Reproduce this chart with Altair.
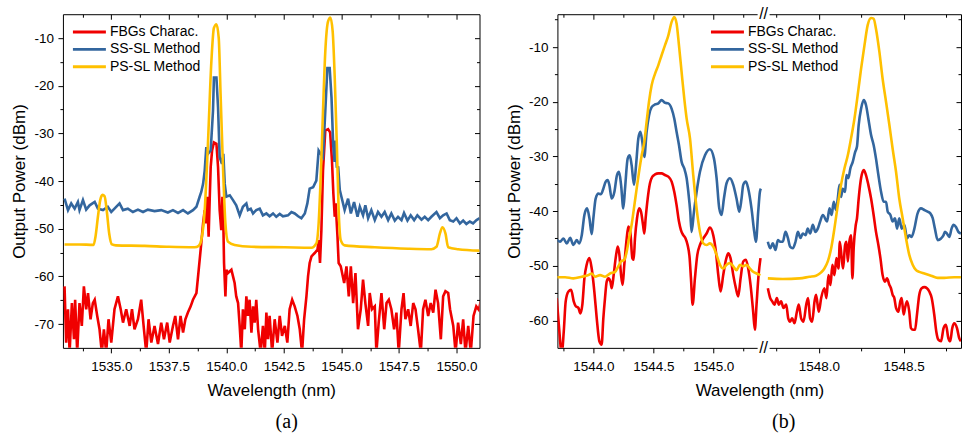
import altair as alt
import pandas as pd

SERIES = ["FBGs Charac.", "SS-SL Method", "PS-SL Method"]
COLORS = ["#F00000", "#33669E", "#FFC000"]

# ---------------- panel (a) ----------------
A_FBG_WL = [
    1532.97, 1533.04, 1533.12, 1533.19, 1533.29, 1533.38, 1533.43, 1533.52, 1533.62, 1533.72,
    1533.81, 1533.91, 1533.99, 1534.10, 1534.20, 1534.28, 1534.39, 1534.49, 1534.59, 1534.68,
    1534.78, 1534.88, 1535.00, 1535.14, 1535.29, 1535.41, 1535.51, 1535.65, 1535.80, 1535.90,
    1536.01, 1536.16, 1536.30, 1536.42, 1536.52, 1536.62, 1536.74, 1536.88, 1537.03, 1537.17,
    1537.29, 1537.43, 1537.54, 1537.68, 1537.78, 1537.90, 1538.01, 1538.12, 1538.22, 1538.33,
    1538.45, 1538.55, 1538.70, 1538.80,
    1538.91, 1538.99, 1539.06, 1539.13, 1539.17, 1539.23, 1539.28, 1539.32, 1539.38, 1539.46,
    1539.57, 1539.64, 1539.71, 1539.78, 1539.83, 1539.87, 1539.90, 1539.96, 1540.00, 1540.07,
    1540.22, 1540.29, 1540.36, 1540.43, 1540.51, 1540.58, 1540.65, 1540.72, 1540.80, 1540.87,
    1540.94, 1541.01, 1541.09, 1541.16, 1541.23, 1541.30, 1541.38, 1541.49, 1541.59, 1541.67,
    1541.74, 1541.81, 1541.88, 1541.99, 1542.10, 1542.22, 1542.32, 1542.42, 1542.54, 1542.65,
    1542.75, 1542.86, 1542.97, 1543.09, 1543.19, 1543.29, 1543.38, 1543.48, 1543.55, 1543.62,
    1543.70, 1543.84, 1543.96, 1544.01, 1544.07, 1544.13, 1544.20, 1544.30, 1544.42, 1544.51,
    1544.59, 1544.65, 1544.71, 1544.75, 1544.83, 1544.88, 1544.97,
    1545.12, 1545.22, 1545.32, 1545.41, 1545.51, 1545.61, 1545.72, 1545.84, 1545.94, 1546.04,
    1546.16, 1546.23, 1546.33, 1546.45, 1546.52, 1546.62, 1546.74, 1546.86, 1546.96, 1547.06,
    1547.17, 1547.29, 1547.39, 1547.49, 1547.61, 1547.70, 1547.78, 1547.90, 1548.01, 1548.12,
    1548.22, 1548.33, 1548.45, 1548.55, 1548.65, 1548.77, 1548.88, 1548.99, 1549.09, 1549.20,
    1549.32, 1549.42, 1549.52, 1549.64, 1549.72, 1549.86, 1549.96, 1550.07, 1550.19, 1550.29,
    1550.39, 1550.51, 1550.62, 1550.74, 1550.86, 1550.97, 1551.06,
]
A_FBG_P = [
    -62.1, -73.9, -66.9, -76.0, -65.6, -73.2, -64.9, -76.0, -65.6, -70.4,
    -62.1, -66.9, -63.5, -69.0, -65.6, -64.9, -68.3, -71.1, -76.0, -71.1,
    -76.0, -69.0, -73.9, -66.9, -64.2, -66.9, -69.7, -66.9, -70.4, -66.9,
    -71.1, -69.0, -64.9, -71.1, -76.0, -69.0, -73.9, -70.4, -74.2, -69.7,
    -73.2, -69.7, -73.9, -70.4, -68.3, -73.2, -68.3, -71.8, -69.0, -67.6,
    -66.3, -64.9, -63.5, -58.6,
    -53.1, -48.9, -46.1, -48.9, -43.3, -51.7, -43.3, -37.1, -33.6, -31.9,
    -32.2, -37.1, -46.1, -50.3, -43.3, -48.9, -57.2, -64.2, -58.6, -59.3,
    -58.6, -60.0, -61.4, -64.2, -65.6, -70.4, -76.0, -66.9, -71.1, -64.2,
    -68.3, -64.9, -71.8, -66.3, -69.7, -64.9, -71.1, -76.0, -70.4, -76.0,
    -67.6, -73.2, -68.3, -76.0, -69.0, -73.9, -68.3, -72.5, -70.4, -73.9,
    -66.9, -64.9, -66.3, -68.3, -71.1, -76.0, -69.0, -64.2, -60.0, -57.2,
    -55.8, -55.1, -54.4, -52.4, -57.2, -50.3, -37.8, -29.4, -29.1, -29.8,
    -35.7, -42.6, -47.5, -44.7, -51.7, -57.2, -57.9,
    -61.4, -57.9, -64.2, -57.9, -65.6, -59.3, -71.1, -66.9, -60.7, -65.6,
    -70.4, -63.5, -66.9, -66.3, -76.0, -69.7, -63.5, -71.1, -65.6, -64.9,
    -66.9, -71.1, -67.6, -76.0, -66.9, -63.5, -69.0, -66.9, -70.4, -65.6,
    -66.9, -71.1, -76.0, -66.9, -64.9, -68.3, -65.6, -67.6, -62.8, -65.6,
    -73.2, -64.2, -63.1, -63.5, -66.9, -70.4, -76.0, -69.7, -74.2, -69.0,
    -76.0, -70.4, -76.0, -68.3, -66.3, -67.0, -65.2,
]

A_SS_WL = [
    1532.97, 1533.12, 1533.26, 1533.41, 1533.55, 1533.62, 1533.77, 1533.91, 1534.06, 1534.28,
    1534.42, 1534.64, 1534.85, 1535.00, 1535.14, 1535.36, 1535.51, 1535.72, 1535.94, 1536.16,
    1536.38, 1536.59, 1536.88, 1537.17, 1537.46, 1537.68, 1537.90, 1538.12, 1538.33, 1538.55,
    1538.70, 1538.84,
    1538.91, 1538.99, 1539.06, 1539.13, 1539.20, 1539.32, 1539.42, 1539.46, 1539.57, 1539.64,
    1539.71, 1539.81, 1539.87, 1539.93, 1540.00, 1540.15, 1540.29, 1540.43, 1540.58, 1540.72,
    1540.87, 1540.94, 1541.06, 1541.16, 1541.30, 1541.45, 1541.59, 1541.74, 1541.88, 1542.03,
    1542.17, 1542.32, 1542.46, 1542.68, 1542.83, 1542.97, 1543.12, 1543.26, 1543.41, 1543.52,
    1543.62, 1543.77, 1543.91, 1544.01, 1544.10, 1544.20, 1544.30, 1544.39, 1544.49, 1544.57,
    1544.64, 1544.70, 1544.75, 1544.80, 1544.86, 1544.93, 1545.00,
    1545.14, 1545.29, 1545.41, 1545.55, 1545.70, 1545.80, 1545.94, 1546.04, 1546.16, 1546.30,
    1546.45, 1546.59, 1546.74, 1546.88, 1547.03, 1547.17, 1547.32, 1547.46, 1547.61, 1547.72,
    1547.87, 1548.01, 1548.16, 1548.30, 1548.48, 1548.62, 1548.77, 1548.91, 1549.13, 1549.28,
    1549.42, 1549.57, 1549.71, 1549.86, 1550.00, 1550.15, 1550.29, 1550.43, 1550.58, 1550.72,
    1550.87, 1551.01,
]
A_SS_P = [
    -43.7, -46.1, -44.7, -45.8, -44.4, -46.1, -44.0, -46.0, -45.1, -44.4,
    -45.8, -46.1, -45.4, -46.5, -45.8, -44.7, -46.1, -45.8, -46.5, -46.0,
    -46.5, -46.0, -46.3, -46.1, -46.6, -46.1, -46.7, -46.1, -46.8, -46.1,
    -45.4, -43.3,
    -42.3, -40.6, -37.8, -32.9, -34.3, -33.6, -25.3, -18.3, -18.3, -24.6,
    -35.0, -36.4, -34.3, -40.6, -43.3, -43.0, -44.0, -45.1, -47.2, -45.4,
    -44.7, -46.1, -45.8, -46.8, -46.1, -45.8, -47.2, -46.8, -47.4, -46.8,
    -47.5, -46.9, -47.4, -47.2, -46.5, -46.8, -47.4, -47.8, -46.8, -44.7,
    -41.6, -41.3, -39.9, -33.6, -34.3, -35.0, -25.3, -16.3, -16.3, -22.5,
    -32.2, -36.0, -31.5, -37.0, -37.1, -41.9, -43.3,
    -46.1, -43.7, -46.8, -44.4, -47.5, -45.4, -47.2, -45.1, -47.8, -46.1,
    -48.2, -46.5, -47.5, -46.5, -48.2, -46.8, -48.3, -47.5, -48.2, -46.7,
    -48.3, -47.2, -48.2, -47.2, -48.1, -47.5, -48.2, -47.5, -46.5, -47.8,
    -47.2, -46.8, -48.2, -48.5, -47.8, -48.9, -48.3, -49.0, -48.5, -48.9,
    -48.2, -47.8,
]

A_PS_WL = [
    1532.97, 1533.60, 1534.23, 1534.32, 1534.42, 1534.52, 1534.62, 1534.71, 1534.81, 1534.91,
    1535.03, 1535.20, 1536.45, 1537.50, 1538.62, 1538.80, 1538.91, 1539.06, 1539.20, 1539.35,
    1539.46, 1539.57, 1539.67, 1539.75, 1539.86, 1539.96, 1540.07, 1540.36, 1541.09, 1542.54,
    1543.70, 1543.91, 1544.01, 1544.10, 1544.20, 1544.30, 1544.42, 1544.52, 1544.62, 1544.71,
    1544.80, 1544.88, 1544.97, 1545.14, 1546.45, 1547.90, 1548.91, 1549.13, 1549.28, 1549.39,
    1549.52, 1549.64, 1550.07, 1551.01,
]
A_PS_P = [
    -53.3, -53.3, -53.4, -51.5, -47.5, -44.0, -42.9, -43.2, -46.5, -51.0,
    -53.3, -53.5, -53.6, -53.8, -53.9, -53.6, -52.4, -46.1, -32.2, -14.9,
    -7.9, -7.1, -10.0, -21.8, -37.8, -48.9, -52.7, -53.4, -53.8, -53.9,
    -54.0, -53.1, -48.9, -39.2, -25.3, -12.8, -6.5, -5.7, -8.6, -18.3,
    -32.2, -46.1, -52.4, -53.5, -53.9, -54.2, -54.3, -53.8, -51.0, -49.7,
    -51.0, -53.9, -54.3, -54.6,
]

# ---------------- panel (b) ----------------
B_FBG_WL = [
    1543.694, 1543.714, 1543.736, 1543.753, 1543.769, 1543.792, 1543.814, 1543.836, 1543.853, 1543.875,
    1543.892, 1543.908, 1543.925, 1543.944, 1543.967, 1543.986, 1544.008, 1544.028, 1544.050, 1544.069,
    1544.083, 1544.097, 1544.111, 1544.125, 1544.142, 1544.153, 1544.169, 1544.186, 1544.203, 1544.217,
    1544.231, 1544.244, 1544.258, 1544.278, 1544.292, 1544.308, 1544.325, 1544.336, 1544.347, 1544.364,
    1544.381, 1544.397, 1544.414, 1544.425, 1544.436, 1544.453, 1544.472, 1544.492, 1544.514, 1544.542,
    1544.569, 1544.597, 1544.625, 1544.653, 1544.675, 1544.694, 1544.714, 1544.731, 1544.750, 1544.769,
    1544.786, 1544.803, 1544.814, 1544.828, 1544.847, 1544.867, 1544.889, 1544.917, 1544.944, 1544.972,
    1545.000, 1545.022, 1545.042, 1545.061, 1545.083, 1545.106, 1545.125, 1545.144, 1545.167, 1545.189,
    1545.208, 1545.228, 1545.250, 1545.272, 1545.292, 1545.311, 1545.333, 1545.347, 1545.361, 1545.378,
    1545.394,
    1547.700, 1547.714, 1547.726, 1547.739, 1547.753, 1547.765, 1547.778, 1547.792, 1547.808, 1547.820,
    1547.831, 1547.843, 1547.857, 1547.871, 1547.882, 1547.896, 1547.910, 1547.926, 1547.937, 1547.949,
    1547.961, 1547.975, 1547.984, 1548.000, 1548.014, 1548.033, 1548.045, 1548.057, 1548.069, 1548.080,
    1548.092, 1548.104, 1548.116, 1548.124, 1548.135, 1548.143, 1548.155, 1548.163, 1548.171, 1548.180,
    1548.190, 1548.198, 1548.206, 1548.218, 1548.225, 1548.235, 1548.249, 1548.265, 1548.278, 1548.292,
    1548.308, 1548.323, 1548.337, 1548.351, 1548.363, 1548.376, 1548.390, 1548.402, 1548.416, 1548.425,
    1548.435, 1548.445, 1548.455, 1548.469, 1548.480, 1548.488, 1548.500, 1548.508, 1548.520, 1548.533,
    1548.543, 1548.555, 1548.567, 1548.578, 1548.592, 1548.606, 1548.622, 1548.637, 1548.651, 1548.665,
    1548.680, 1548.692, 1548.704, 1548.720, 1548.735, 1548.749, 1548.763, 1548.774, 1548.786, 1548.798,
    1548.814, 1548.827, 1548.837,
]
B_FBG_P = [
    -55.9, -61.4, -66.0, -62.0, -56.5, -54.7, -54.4, -56.5, -57.4, -57.7,
    -58.7, -57.1, -52.3, -49.8, -48.6, -50.5, -54.7, -59.6, -63.8, -64.4,
    -59.6, -55.9, -52.9, -52.3, -52.9, -54.1, -51.7, -48.6, -46.5, -48.0,
    -51.7, -53.5, -49.8, -45.0, -42.8, -43.8, -48.6, -48.9, -45.0, -41.3,
    -39.5, -40.1, -42.5, -44.1, -41.3, -37.7, -34.9, -33.7, -33.3, -33.1,
    -33.1, -33.4, -33.7, -34.6, -36.5, -38.9, -41.9, -43.5, -44.4, -45.0,
    -46.2, -48.6, -52.3, -57.1, -52.3, -48.0, -46.2, -45.0, -44.1, -43.0,
    -44.4, -47.4, -51.7, -54.7, -51.7, -48.9, -47.7, -48.6, -51.7, -54.1,
    -55.6, -52.3, -49.2, -48.9, -50.5, -53.5, -58.4, -61.7, -57.1, -51.7,
    -48.6,
    -54.1, -55.9, -56.5, -57.1, -55.9, -57.1, -56.5, -57.7, -57.1, -59.6,
    -60.2, -59.6, -60.5, -58.4, -57.1, -59.6, -60.2, -57.1, -55.9, -59.6,
    -60.2, -56.5, -55.3, -58.4, -55.9, -54.1, -55.9, -51.7, -53.5, -49.8,
    -51.7, -48.6, -50.5, -45.6, -48.6, -50.5, -46.2, -45.6, -49.2, -45.6,
    -44.4, -52.3, -46.5, -42.5, -41.3, -37.7, -34.0, -32.5, -33.4, -35.2,
    -37.7, -40.7, -43.8, -46.2, -48.6, -51.7, -52.9, -52.3, -53.5, -54.1,
    -55.3, -55.9, -57.7, -58.4, -56.5, -55.9, -58.9, -57.7, -56.5, -58.4,
    -61.4, -61.7, -61.7, -59.0, -55.3, -54.1, -53.9, -54.1, -54.7, -55.9,
    -58.9, -62.0, -63.5, -63.8, -61.4, -60.8, -63.2, -63.8, -61.4, -60.5,
    -61.4, -63.2, -63.8,
]

B_SS_WL = [
    1543.694, 1543.722, 1543.750, 1543.778, 1543.806, 1543.833, 1543.861, 1543.881, 1543.903, 1543.925,
    1543.947, 1543.967, 1543.986, 1544.000, 1544.019, 1544.042, 1544.064, 1544.083, 1544.103, 1544.119,
    1544.133, 1544.153, 1544.175, 1544.197, 1544.214, 1544.231, 1544.250, 1544.264, 1544.286, 1544.303,
    1544.319, 1544.339, 1544.356, 1544.375, 1544.392, 1544.408, 1544.425, 1544.444, 1544.464, 1544.486,
    1544.514, 1544.542, 1544.569, 1544.597, 1544.625, 1544.653, 1544.675, 1544.694, 1544.714, 1544.736,
    1544.758, 1544.778, 1544.792, 1544.808, 1544.819, 1544.839, 1544.861, 1544.889, 1544.931, 1544.972,
    1545.006, 1545.028, 1545.050, 1545.069, 1545.089, 1545.111, 1545.139, 1545.167, 1545.194, 1545.217,
    1545.236, 1545.250, 1545.272, 1545.292, 1545.319, 1545.342, 1545.356, 1545.375, 1545.389, 1545.397,
    1547.700, 1547.714, 1547.729, 1547.745, 1547.759, 1547.773, 1547.788, 1547.804, 1547.818, 1547.831,
    1547.847, 1547.863, 1547.877, 1547.892, 1547.906, 1547.922, 1547.935, 1547.949, 1547.965, 1547.980,
    1547.994, 1548.008, 1548.024, 1548.049, 1548.063, 1548.076, 1548.088, 1548.102, 1548.112, 1548.122,
    1548.131, 1548.141, 1548.155, 1548.163, 1548.174, 1548.186, 1548.200, 1548.214, 1548.225, 1548.235,
    1548.249, 1548.265, 1548.278, 1548.292, 1548.308, 1548.323, 1548.337, 1548.351, 1548.367, 1548.382,
    1548.396, 1548.406, 1548.422, 1548.435, 1548.449, 1548.461, 1548.474, 1548.488, 1548.504, 1548.520,
    1548.533, 1548.547, 1548.563, 1548.582, 1548.602, 1548.622, 1548.641, 1548.657, 1548.671, 1548.684,
    1548.700, 1548.720, 1548.735, 1548.743, 1548.755, 1548.769, 1548.782, 1548.794, 1548.808, 1548.822,
    1548.837,
]
B_SS_P = [
    -45.2, -45.6, -45.0, -45.9, -44.9, -46.2, -45.3, -45.9, -44.4, -40.7,
    -39.5, -41.3, -44.2, -41.3, -37.7, -36.8, -36.9, -35.9, -34.6, -34.3,
    -35.2, -37.7, -36.5, -33.4, -32.8, -35.2, -39.5, -35.9, -30.4, -29.8,
    -31.6, -35.2, -31.6, -26.7, -25.5, -27.3, -30.1, -25.5, -22.5, -21.0,
    -20.5, -20.3, -19.7, -20.2, -20.3, -21.3, -23.1, -25.5, -27.9, -31.0,
    -32.2, -34.0, -36.5, -40.1, -43.8, -40.1, -36.5, -32.8, -29.8, -28.7,
    -30.4, -34.0, -39.5, -40.7, -37.7, -34.9, -34.0, -35.2, -37.7, -40.1,
    -37.7, -35.2, -34.6, -35.9, -39.5, -43.8, -45.6, -40.1, -36.5, -35.9,
    -45.6, -46.8, -45.9, -47.1, -45.3, -45.6, -45.6, -43.8, -44.9, -46.5,
    -46.8, -45.6, -43.8, -44.9, -44.1, -44.4, -43.2, -44.1, -42.5, -43.8,
    -43.2, -41.9, -40.7, -41.9, -39.5, -40.7, -38.3, -39.8, -37.7, -35.2,
    -37.4, -35.9, -36.5, -33.4, -34.0, -32.2, -31.0, -29.2, -28.2, -24.3,
    -21.3, -19.7, -20.6, -23.1, -26.1, -27.9, -30.4, -33.4, -36.5, -38.3,
    -38.3, -40.1, -40.7, -41.9, -41.3, -43.2, -41.3, -43.2, -42.5, -45.0,
    -44.4, -44.7, -43.2, -40.4, -39.5, -39.8, -40.1, -40.4, -41.3, -43.2,
    -45.3, -45.0, -44.4, -43.8, -44.1, -44.7, -43.2, -42.5, -42.9, -43.8,
    -44.1,
]

B_PS_WL = [
    1543.694, 1543.764, 1543.833, 1543.903, 1543.958, 1543.986, 1544.014, 1544.056, 1544.097, 1544.139,
    1544.181, 1544.208, 1544.231, 1544.258, 1544.278, 1544.297, 1544.319, 1544.342, 1544.361, 1544.381,
    1544.403, 1544.425, 1544.444, 1544.464, 1544.486, 1544.514, 1544.542, 1544.569, 1544.597, 1544.625,
    1544.653, 1544.675, 1544.694, 1544.714, 1544.736, 1544.758, 1544.778, 1544.806, 1544.833, 1544.861,
    1544.889, 1544.917, 1544.944, 1544.972, 1545.000, 1545.028, 1545.056, 1545.083, 1545.111, 1545.139,
    1545.167, 1545.194, 1545.222, 1545.250, 1545.278, 1545.306, 1545.333, 1545.361, 1545.394,
    1547.700, 1547.788, 1547.886, 1547.945, 1547.984, 1548.014, 1548.033, 1548.053, 1548.073, 1548.092,
    1548.112, 1548.131, 1548.151, 1548.171, 1548.190, 1548.210, 1548.229, 1548.249, 1548.269, 1548.288,
    1548.308, 1548.323, 1548.337, 1548.357, 1548.376, 1548.396, 1548.416, 1548.435, 1548.455, 1548.474,
    1548.494, 1548.514, 1548.533, 1548.553, 1548.573, 1548.592, 1548.622, 1548.661, 1548.700, 1548.739,
    1548.798, 1548.837,
]
B_PS_P = [
    -52.1, -52.1, -52.3, -52.0, -51.7, -51.4, -52.0, -51.7, -52.0, -51.4,
    -51.1, -50.1, -49.2, -48.9, -47.4, -45.0, -42.5, -38.9, -35.9, -32.8,
    -29.8, -27.3, -23.7, -20.0, -17.0, -14.9, -13.3, -11.5, -9.7, -7.9,
    -5.4, -4.5, -5.7, -9.7, -14.6, -19.4, -23.1, -26.7, -33.4, -39.5,
    -43.8, -45.9, -46.2, -45.9, -46.5, -48.0, -49.8, -50.5, -49.8, -49.5,
    -50.1, -50.8, -49.8, -50.1, -49.8, -50.5, -51.1, -51.4, -51.7,
    -52.3, -52.4, -52.3, -52.0, -51.8, -51.2, -50.5, -49.2, -46.8, -43.2,
    -38.9, -35.2, -32.2, -29.8, -26.7, -23.1, -18.8, -14.0, -9.7, -6.0,
    -4.7, -4.8, -6.7, -10.9, -15.8, -20.0, -24.3, -28.6, -32.8, -37.7,
    -41.3, -45.0, -48.0, -49.8, -50.8, -51.1, -51.4, -51.8, -52.2, -52.2,
    -52.1, -52.1,
]

# axis ticks and domains
A_X_MAJOR = [1535.0, 1537.5, 1540.0, 1542.5, 1545.0, 1547.5, 1550.0]
A_X_MINOR = [1533.75, 1536.25, 1538.75, 1541.25, 1543.75, 1546.25, 1548.75]
A_Y_MAJOR = [-70, -60, -50, -40, -30, -20, -10]
A_Y_MINOR = [-65, -55, -45, -35, -25, -15]
B_X_MAJOR = [1544.0, 1544.5, 1545.0, 1548.0, 1548.5]
B_X_MINOR = [1543.75, 1544.25, 1544.75, 1545.25, 1547.75, 1548.25, 1548.75]
B_Y_MAJOR = [-60, -50, -40, -30, -20, -10]
B_Y_MINOR = [-55, -45, -35, -25, -15, -5]
A_X_DOMAIN = [1532.9, 1551.0]
A_Y_DOMAIN = [-75, -5]
B_X_DOMAIN = [1543.7, 1545.42, 1547.675, 1548.84]
B_Y_DOMAIN = [-65, -4]


def build(parts):
    frames = []
    for name, wl, p in parts:
        assert len(wl) == len(p), (name, len(wl), len(p))
        frames.append(pd.DataFrame({"wl": wl, "p": p, "series": name}))
    return pd.concat(frames, ignore_index=True)


df_a = build([(SERIES[0], A_FBG_WL, A_FBG_P), (SERIES[1], A_SS_WL, A_SS_P), (SERIES[2], A_PS_WL, A_PS_P)])
df_b = build([(SERIES[0], B_FBG_WL, B_FBG_P), (SERIES[1], B_SS_WL, B_SS_P), (SERIES[2], B_PS_WL, B_PS_P)])
df_b["seg"] = (df_b["wl"] > 1546).map({False: "left", True: "right"})

FONT = "Liberation Sans"
H = 334
W_A = 417
W_B = 404
SEG1_PX = 206.4

STYLE = dict(grid=False, domain=False, tickColor="black", tickWidth=1,
             labelFont=FONT, labelFontSize=13.5, labelColor="black", labelFlush=False,
             labelOverlap=False, titleFont=FONT, titleFontSize=17, titleFontWeight="normal",
             titleColor="black")


def hidden_axis(orient, values, size):
    return alt.Axis(orient=orient, values=values, tickSize=size, labels=False, title=None, **STYLE)


def panel(df, xscale, xmaj, xmin, yscale, ymaj, ymin, leg_x, caption, cap_dx, split=False, extras=()):
    x_main = alt.X("wl:Q", scale=xscale, axis=alt.Axis(
        orient="bottom", values=xmaj, tickSize=5, format=".1f",
        labelPadding=6.5, title="Wavelength (nm)", titlePadding=11,
        minExtent=24, maxExtent=24, **STYLE))
    y_main = alt.Y("p:Q", scale=yscale, axis=alt.Axis(
        orient="left", values=ymaj, tickSize=5, labelExpr="toString(datum.value)",
        labelPadding=4.5, title="Output Power (dBm)", titlePadding=6,
        minExtent=28, maxExtent=28, **STYLE))
    legend = alt.Legend(orient="none", legendX=leg_x, legendY=10.2, title=None,
                        symbolType="M-2.75,0H2.75", symbolSize=144, symbolStrokeWidth=3,
                        labelFont=FONT, labelFontSize=14, labelColor="black",
                        labelOffset=13, rowPadding=2.5, padding=0, labelLimit=300)
    color = alt.Color("series:N", scale=alt.Scale(domain=SERIES, range=COLORS), legend=legend)

    layers = []
    for i, name in enumerate(SERIES):
        interp = "monotone" if (split or i == 2) else "linear"
        enc = dict(color=color)
        if i == 0:
            enc.update(x=x_main, y=y_main)
        else:
            enc.update(x=alt.X("wl:Q", scale=xscale, axis=None), y=alt.Y("p:Q", scale=yscale, axis=None))
        if split:
            enc["detail"] = alt.Detail("seg:N")
        layers.append(
            alt.Chart(df).transform_filter(alt.datum.series == name)
            .mark_line(clip=True, strokeWidth=2.6, interpolate=interp).encode(**enc)
        )

    def ghost(xa, ya):
        return alt.Chart(df).mark_line(opacity=0, clip=True).encode(
            x=alt.X("wl:Q", scale=xscale, axis=xa), y=alt.Y("p:Q", scale=yscale, axis=ya))

    layers.append(ghost(hidden_axis("bottom", xmin, 3), hidden_axis("left", ymin, 3)))
    layers.append(ghost(hidden_axis("top", xmaj, {"expr": "-5"}), hidden_axis("right", ymaj, {"expr": "-5"})))
    layers.append(ghost(hidden_axis("top", xmin, {"expr": "-3"}), hidden_axis("right", ymin, {"expr": "-3"})))
    layers.extend(extras)

    return alt.layer(*layers).resolve_axis(x="independent", y="independent").properties(
        height=H,
        title=alt.TitleParams(caption, orient="bottom", font="Liberation Serif", fontSize=20,
                              fontWeight="normal", color="black", offset=13, dx=cap_dx,
                              anchor="middle", frame="group"))


deco = pd.DataFrame({"t": ["//"]})
mask_top = alt.Chart(deco).mark_rect(color="white").encode(
    x=alt.value(SEG1_PX - 6), x2=alt.value(SEG1_PX + 6), y=alt.value(-3), y2=alt.value(3))
mask_bot = alt.Chart(deco).mark_rect(color="white").encode(
    x=alt.value(SEG1_PX - 6), x2=alt.value(SEG1_PX + 6), y=alt.value(H - 3), y2=alt.value(H + 3))
slash_top = alt.Chart(deco).mark_text(font=FONT, fontSize=16, color="black", align="center",
                                      baseline="middle").encode(
    text="t:N", x=alt.value(SEG1_PX), y=alt.value(0))
slash_bot = alt.Chart(deco).mark_text(font=FONT, fontSize=16, color="black", align="center",
                                      baseline="middle").encode(
    text="t:N", x=alt.value(SEG1_PX), y=alt.value(H))

pa = panel(df_a, alt.Scale(domain=A_X_DOMAIN, nice=False, zero=False), A_X_MAJOR, A_X_MINOR,
           alt.Scale(domain=A_Y_DOMAIN, nice=False, zero=False), A_Y_MAJOR, A_Y_MINOR,
           19, "(a)", 15.5).properties(width=W_A)
pb = panel(df_b, alt.Scale(domain=B_X_DOMAIN, range=[0, SEG1_PX, SEG1_PX, W_B + 0.4], nice=False, zero=False),
           B_X_MAJOR, B_X_MINOR,
           alt.Scale(domain=B_Y_DOMAIN, nice=False, zero=False), B_Y_MAJOR, B_Y_MINOR,
           162.7, "(b)", 24.5, split=True,
           extras=(mask_top, mask_bot, slash_top, slash_bot)).properties(width=W_B)

chart = alt.hconcat(pa, pb, spacing=78, bounds="flush").resolve_legend(color="independent").properties(
    padding={"left": 10, "top": 5, "right": 0, "bottom": 0}, background="white"
).configure_view(stroke="black", strokeWidth=1)

chart.save("out.html", embed_options={"renderer": "svg", "actions": False})
